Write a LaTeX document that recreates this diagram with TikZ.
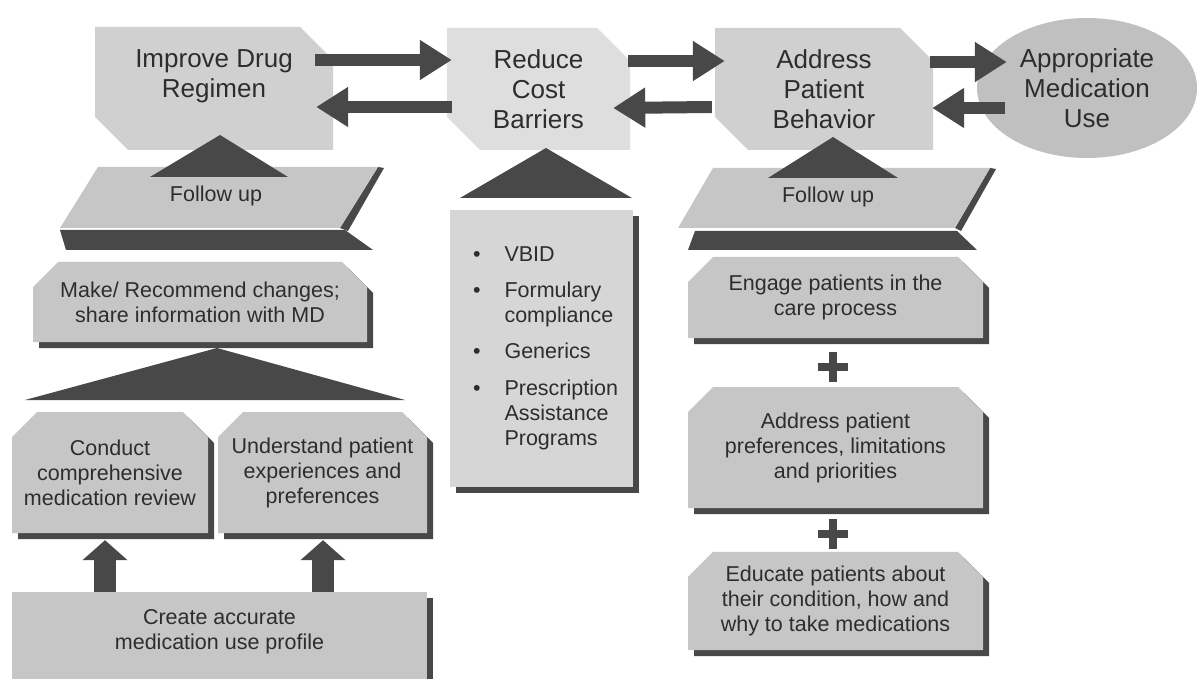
\documentclass[tikz,border=0pt]{standalone}
\usepackage{fontspec}
\setmainfont{Liberation Sans}
\usetikzlibrary{arrows.meta, calc, shapes.geometric, shapes.misc, shadows}
\definecolor{inkgray}{RGB}{45,45,45}
\definecolor{topgray}{RGB}{208,208,208}
\definecolor{costgray}{RGB}{222,222,222}
\definecolor{ellgray}{RGB}{192,192,192}
\definecolor{boxgray}{RGB}{198,198,198}
\definecolor{listgray}{RGB}{214,214,214}
\definecolor{darkfill}{RGB}{72,72,72}

\begin{document}
\begin{tikzpicture}[x=1pt, y=-1pt,
    every node/.style={font=\fontsize{21.5}{25}\selectfont, text=inkgray, align=center, inner sep=0pt},
    bigtext/.style={font=\fontsize{26}{30}\selectfont},
    topbox/.style={chamfered rectangle, chamfered rectangle corners={north east,south west},
        chamfered rectangle xsep=15pt, chamfered rectangle ysep=18pt, bigtext},
    subbox/.style={chamfered rectangle, chamfered rectangle corners={north east,north west},
        chamfered rectangle xsep=11pt, chamfered rectangle ysep=14pt, fill=boxgray,
        general shadow={fill=darkfill, shadow xshift=6pt, shadow yshift=-6pt}},
    plainbox/.style={rectangle, general shadow={fill=darkfill, shadow xshift=6pt, shadow yshift=-6pt}},
    harrow/.style={draw=darkfill, line width=12pt, -{Triangle[length=32pt, width=38pt]}},
    uparrow/.style={draw=darkfill, line width=22pt, -{Triangle[length=20pt, width=44pt]}},
    plus/.style={draw=darkfill, line width=8pt}
]
\clip (0,0) rectangle (1197,679);
\fill[white] (0,0) rectangle (1197,679);

% top row
\node[topbox, fill=topgray, minimum width=238pt, minimum height=123pt] (improve) at (214,88.5) {Improve Drug\\Regimen\\\mbox{}};
\node[topbox, fill=costgray, minimum width=183pt, minimum height=122pt] (reduce) at (538.5,89) {Reduce\\Cost\\Barriers};
\node[topbox, fill=topgray, minimum width=218pt, minimum height=122pt] (address) at (824,89) {Address\\Patient\\Behavior};
\node[ellipse, fill=ellgray, minimum width=220pt, minimum height=140pt, bigtext] (appropriate) at (1087,88) {Appropriate\\Medication\\Use};

% follow up layers
\fill[darkfill] (60,230) -- (345,230) -- (373,250) -- (66,250) -- cycle;
\fill[darkfill] (378,167) -- (384,168) -- (348,231) -- (340,228) -- cycle;
\fill[boxgray] (98,167) -- (378,167) -- (340,228) -- (60,228) -- cycle;
\node (followL) at (216,196) {Follow up};
\fill[darkfill] (695,231) -- (957,231) -- (977,250) -- (688,250) -- cycle;
\fill[darkfill] (990,168) -- (996,169) -- (961,231) -- (955,228) -- cycle;
\fill[boxgray] (713,168) -- (990,168) -- (955,228) -- (678,228) -- cycle;
\node (followR) at (828,197) {Follow up};

% left column
\node[subbox, minimum width=334pt, minimum height=80pt] (recommend) at (200,302) {Make/ Recommend changes;\\share information with MD};
\node[subbox, minimum width=196pt, minimum height=121pt] (conduct) at (110,472.5) {Conduct\\comprehensive\\medication review};
\node[subbox, minimum width=209pt, minimum height=121pt] (understand) at (322.5,472.5) {Understand patient\\experiences and\\preferences};
\node[plainbox, fill=boxgray, minimum width=415pt, minimum height=100pt] (create) at (219.5,642) {Create accurate\\medication use profile\\\mbox{}};

% middle column
\node[plainbox, fill=listgray, minimum width=183pt, minimum height=277pt, text width=156pt, inner xsep=13.5pt, align=left] (costlist) at (541.5,348.5) {%
  \begin{tabular}{@{\hspace{9.5pt}}l@{\hspace{24pt}}l@{}}
  \textbullet & VBID\\[11pt]
  \textbullet & Formulary\\
              & compliance\\[11pt]
  \textbullet & Generics\\[12pt]
  \textbullet & Prescription\\
              & Assistance\\
              & Programs
  \end{tabular}};

% right column
\node[subbox, minimum width=295pt, minimum height=81pt] (engage) at (835.5,297.5) {Engage patients in the\\care process};
\node[subbox, minimum width=295pt, minimum height=121pt] (preferences) at (835.5,447.5) {Address patient\\preferences, limitations\\and priorities};
\node[subbox, minimum width=295pt, minimum height=98pt] (educate) at (835.5,601) {Educate patients about\\their condition, how and\\why to take medications};

% triangles
\fill[darkfill] (220,135) -- (288,177) -- (150,177) -- cycle;
\fill[darkfill] (546,148) -- (632,198) -- (460,198) -- cycle;
\fill[darkfill] (833,137) -- (898,178) -- (768,178) -- cycle;
\fill[darkfill] (217,348) -- (405,400) -- (25,400) -- cycle;

% arrows
\draw[harrow] ($(improve.east)+(-18,-28.5)$) -- ($(reduce.west)+(5,-29)$);
\draw[harrow] ($(reduce.west)+(5,18)$) -- ($(improve.east)+(-17,18.5)$);
\draw[harrow] ($(reduce.east)+(-2,-28)$) -- ($(address.west)+(10,-28)$);
\draw[harrow] ($(address.west)+(-3,18)$) -- ($(reduce.east)+(-17,19)$);
\draw[harrow] ($(address.east)+(-3,-27)$) -- ($(appropriate.west)+(30,-26)$);
\draw[harrow] ($(appropriate.west)+(28,20)$) -- ($(address.east)+(-1,19)$);
\draw[uparrow] ([xshift=-5pt]conduct.south |- create.north) -- ($(conduct.south)+(-5,7)$);
\draw[uparrow] ([xshift=0.5pt]understand.south |- create.north) -- ($(understand.south)+(0.5,7)$);

% plus signs
\coordinate (plusA) at ($(engage.south)!0.5!(preferences.north)+(-3,4)$);
\coordinate (plusB) at ($(preferences.south)!0.5!(educate.north)+(-3,4)$);
\draw[plus] ($(plusA)+(-15,0)$) -- ($(plusA)+(15,0)$) ($(plusA)+(0,-15)$) -- ($(plusA)+(0,15)$);
\draw[plus] ($(plusB)+(-15,0)$) -- ($(plusB)+(15,0)$) ($(plusB)+(0,-15)$) -- ($(plusB)+(0,15)$);
\end{tikzpicture}
\end{document}
